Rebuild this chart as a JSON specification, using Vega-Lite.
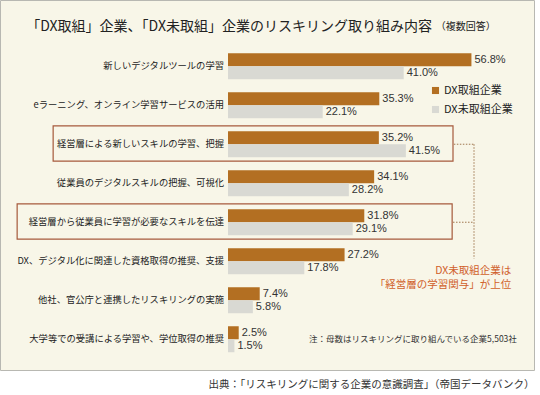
{
  "$schema": "https://vega.github.io/schema/vega-lite/v6.json",
  "width": 534,
  "height": 370,
  "autosize": "none",
  "padding": {"left": 0, "top": 0, "right": 6, "bottom": 25},
  "background": "#ffffff",
  "config": {
    "view": {"fill": "#f8f6e8", "stroke": "#b8b8b2", "strokeWidth": 1},
    "font": "Liberation Sans, Noto Sans CJK JP, sans-serif"
  },
  "datasets": {
    "bars": [
      {"item": "新しいデジタルツールの学習", "group": "DX取組企業", "value": 0.568},
      {"item": "新しいデジタルツールの学習", "group": "DX未取組企業", "value": 0.410},
      {"item": "eラーニング、オンライン学習サービスの活用", "group": "DX取組企業", "value": 0.353},
      {"item": "eラーニング、オンライン学習サービスの活用", "group": "DX未取組企業", "value": 0.221},
      {"item": "経営層による新しいスキルの学習、把握", "group": "DX取組企業", "value": 0.352},
      {"item": "経営層による新しいスキルの学習、把握", "group": "DX未取組企業", "value": 0.415},
      {"item": "従業員のデジタルスキルの把握、可視化", "group": "DX取組企業", "value": 0.341},
      {"item": "従業員のデジタルスキルの把握、可視化", "group": "DX未取組企業", "value": 0.282},
      {"item": "経営層から従業員に学習が必要なスキルを伝達", "group": "DX取組企業", "value": 0.318},
      {"item": "経営層から従業員に学習が必要なスキルを伝達", "group": "DX未取組企業", "value": 0.291},
      {"item": "DX、デジタル化に関連した資格取得の推奨、支援", "group": "DX取組企業", "value": 0.272},
      {"item": "DX、デジタル化に関連した資格取得の推奨、支援", "group": "DX未取組企業", "value": 0.178},
      {"item": "他社、官公庁と連携したリスキリングの実施", "group": "DX取組企業", "value": 0.074},
      {"item": "他社、官公庁と連携したリスキリングの実施", "group": "DX未取組企業", "value": 0.058},
      {"item": "大学等での受講による学習や、学位取得の推奨", "group": "DX取組企業", "value": 0.025},
      {"item": "大学等での受講による学習や、学位取得の推奨", "group": "DX未取組企業", "value": 0.015}
    ],
    "boxes": [
      {"item": "経営層による新しいスキルの学習、把握", "x1": -0.408, "x2": 0.525},
      {"item": "経営層から従業員に学習が必要なスキルを伝達", "x1": -0.492, "x2": 0.523}
    ],
    "hlinks": [
      {"item": "経営層による新しいスキルの学習、把握", "x1": 0.527, "x2": 0.574},
      {"item": "経営層から従業員に学習が必要なスキルを伝達", "x1": 0.525, "x2": 0.574}
    ],
    "vlinks": [
      {"from": "経営層による新しいスキルの学習、把握", "to": "DX、デジタル化に関連した資格取得の推奨、支援", "x": 0.574}
    ]
  },
  "resolve": {"scale": {"y": "independent"}},
  "layer": [
    {
      "data": {"name": "boxes"},
      "mark": {"type": "rect", "fillOpacity": 0, "stroke": "#a65a3c", "strokeWidth": 1.2},
      "encoding": {
        "y": {
          "field": "item", "type": "nominal", "axis": null,
          "scale": {
            "domain": ["新しいデジタルツールの学習", "eラーニング、オンライン学習サービスの活用", "経営層による新しいスキルの学習、把握", "従業員のデジタルスキルの把握、可視化", "経営層から従業員に学習が必要なスキルを伝達", "DX、デジタル化に関連した資格取得の推奨、支援", "他社、官公庁と連携したリスキリングの実施", "大学等での受講による学習や、学位取得の推奨"],
            "paddingInner": 0.1, "paddingOuter": 0.7935, "align": 0.775
          }
        },
        "x": {"field": "x1", "type": "quantitative", "scale": {"domain": [-0.532, 0.714], "nice": false, "zero": false},
          "axis": {"labels": false, "ticks": false, "domain": false, "grid": false,
            "title": "出典：「リスキリングに関する企業の意識調査」（帝国データバンク）",
            "titleAnchor": "end", "titleFontSize": 10.5, "titleFontWeight": "normal", "titleColor": "#333333",
            "titlePadding": 9, "titleFont": "Noto Sans CJK JP"}},
        "x2": {"field": "x2"}
      }
    },
    {
      "encoding": {
        "y": {
          "field": "item", "type": "nominal", "axis": null,
          "scale": {
            "domain": ["新しいデジタルツールの学習", "eラーニング、オンライン学習サービスの活用", "経営層による新しいスキルの学習、把握", "従業員のデジタルスキルの把握、可視化", "経営層から従業員に学習が必要なスキルを伝達", "DX、デジタル化に関連した資格取得の推奨、支援", "他社、官公庁と連携したリスキリングの実施", "大学等での受講による学習や、学位取得の推奨"],
            "paddingInner": 0.333, "paddingOuter": 0.91, "align": 0.75
          }
        }
      },
      "layer": [
        {
          "data": {"name": "bars"},
          "mark": {"type": "bar"},
          "encoding": {
            "x": {"field": "value", "type": "quantitative"},
            "yOffset": {"field": "group", "type": "nominal", "scale": {"domain": ["DX取組企業", "DX未取組企業"], "paddingInner": 0, "paddingOuter": 0}},
            "color": {"field": "group", "type": "nominal",
              "scale": {"domain": ["DX取組企業", "DX未取組企業"], "range": ["#b36f22", "#d9d9d3"]},
              "legend": {"orient": "none", "legendX": 430, "legendY": 85, "title": null, "symbolType": "square",
                "symbolSize": 50, "labelFontSize": 11, "rowPadding": 7, "labelOffset": 3, "labelColor": "#222222", "symbolStrokeWidth": 0,
                "labelFont": "Noto Sans CJK JP"}}
          }
        },
        {
          "data": {"name": "bars"},
          "mark": {"type": "text", "align": "left", "baseline": "middle", "dx": 3, "fontSize": 11, "color": "#333333", "font": "Liberation Sans"},
          "encoding": {
            "x": {"field": "value", "type": "quantitative"},
            "yOffset": {"field": "group", "type": "nominal", "scale": {"domain": ["DX取組企業", "DX未取組企業"], "paddingInner": 0, "paddingOuter": 0}},
            "text": {"field": "value", "type": "quantitative", "format": ".1%"}
          }
        },
        {
          "data": {"name": "bars"},
          "transform": [{"filter": "datum.group === 'DX取組企業'"}],
          "mark": {"type": "text", "align": "right", "baseline": "middle", "dx": -4, "fontSize": 9.3, "color": "#222222", "font": "Noto Sans CJK JP"},
          "encoding": {
            "x": {"datum": 0},
            "text": {"field": "item"}
          }
        },
        {
          "data": {"name": "bars"},
          "transform": [{"filter": "datum.group === 'DX取組企業'"}],
          "mark": {"type": "rule", "color": "#333333", "strokeWidth": 1},
          "encoding": {
            "x": {"datum": 0}
          }
        },
        {
          "data": {"name": "hlinks"},
          "mark": {"type": "rule", "color": "#a07850", "strokeWidth": 1, "strokeDash": [1.5, 1.5]},
          "encoding": {
            "x": {"field": "x1", "type": "quantitative"},
            "x2": {"field": "x2"}
          }
        },
        {
          "data": {"name": "vlinks"},
          "mark": {"type": "rule", "color": "#a07850", "strokeWidth": 1, "strokeDash": [1.5, 1.5]},
          "encoding": {
            "x": {"field": "x", "type": "quantitative"},
            "y": {"field": "from", "type": "nominal", "bandPosition": 0.5},
            "y2": {"field": "to", "bandPosition": 0.4}
          }
        },
        {
          "data": {"values": [{}]},
          "mark": {"type": "text", "align": "right", "baseline": "middle", "dy": 9.5, "fontSize": 10.5, "color": "#d0602a", "font": "Noto Sans CJK JP",
            "text": "DX未取組企業は"},
          "encoding": {
            "x": {"datum": 0.661},
            "y": {"datum": "DX、デジタル化に関連した資格取得の推奨、支援"}
          }
        },
        {
          "data": {"values": [{}]},
          "mark": {"type": "text", "align": "right", "baseline": "middle", "dy": 24, "fontSize": 10.5, "color": "#d0602a", "font": "Noto Sans CJK JP",
            "text": "「経営層の学習関与」が上位"},
          "encoding": {
            "x": {"datum": 0.661},
            "y": {"datum": "DX、デジタル化に関連した資格取得の推奨、支援"}
          }
        },
        {
          "data": {"values": [{}]},
          "mark": {"type": "text", "align": "left", "baseline": "middle", "fontSize": 8.5, "color": "#333333", "font": "Noto Sans CJK JP",
            "text": "注：母数はリスキリングに取り組んでいる企業5,503社"},
          "encoding": {
            "x": {"datum": 0.189},
            "y": {"datum": "大学等での受講による学習や、学位取得の推奨"}
          }
        },
        {
          "data": {"values": [{}]},
          "mark": {"type": "text", "align": "left", "baseline": "middle", "dy": -39.5, "fontSize": 14, "color": "#222222", "font": "Noto Sans CJK JP",
            "text": "「DX取組」企業、「DX未取組」企業のリスキリング取り組み内容"},
          "encoding": {
            "x": {"datum": -0.471},
            "y": {"datum": "新しいデジタルツールの学習"}
          }
        },
        {
          "data": {"values": [{}]},
          "mark": {"type": "text", "align": "left", "baseline": "middle", "dy": -39.5, "fontSize": 10, "color": "#222222", "font": "Noto Sans CJK JP",
            "text": "（複数回答）"},
          "encoding": {
            "x": {"datum": 0.485},
            "y": {"datum": "新しいデジタルツールの学習"}
          }
        }
      ]
    }
  ]
}
